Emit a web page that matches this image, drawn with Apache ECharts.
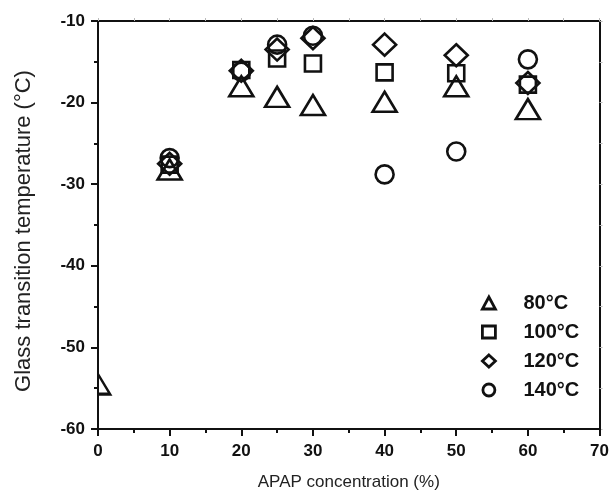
<!DOCTYPE html>
<html><head><meta charset="utf-8">
<script src="https://cdn.jsdelivr.net/npm/echarts@6/dist/echarts.min.js"></script>
<style>html,body{margin:0;padding:0;background:#fff}#c{width:612px;height:498px}</style>
</head><body><div id="c"></div>
<script>
const xTicks = [0, 10, 20, 30, 40, 50, 60, 70];
const yTicks = [-60, -50, -40, -30, -20, -10];
const seriesNames = ['80°C', '100°C', '120°C', '140°C'];
const conc = [0, 10, 20, 25, 30, 40, 50, 60];
const tg80 = [-54.5, -28.2, -18.0, -19.3, -20.3, -19.9, -18.0, -20.8];
const conc100 = [10, 20, 25, 30, 40, 50, 60];
const tg100 = [-27.6, -16.0, -14.6, -15.2, -16.3, -16.4, -17.8];
const conc120 = [10, 20, 25, 30, 40, 50, 60];
const tg120 = [-27.5, -16.1, -13.5, -12.1, -12.9, -14.2, -17.6];
const conc140 = [10, 20, 25, 30, 40, 50, 60];
const tg140 = [-26.8, -16.2, -12.9, -11.8, -28.8, -26.0, -14.7];

const font = '"Liberation Sans", Arial, sans-serif';
// point sitting on the y axis: only the half inside the plot is drawn
const zip = (xs, ys) => xs.map((x, i) => (xs === conc && x === 0)
  ? { value: [x, ys[i]], symbol: 'path://M0,0 L12,20 L0,20 Z', symbolSize: [12, 20], symbolOffset: [6, 0] }
  : [x, ys[i]]);
const mk = (name, xs, ys, symbol, size) => ({
  name: name, type: 'scatter', data: zip(xs, ys), symbol: symbol, symbolSize: size,
  clip: false,
  itemStyle: { color: 'rgba(0,0,0,0)', borderColor: '#111', borderWidth: 2.6, opacity: 1 },
  emphasis: { disabled: true }
});
const axisLine = { show: true, onZero: false, lineStyle: { color: '#111', width: 2 } };
const chart = echarts.init(document.getElementById('c'));
chart.setOption({
  animation: false,
  backgroundColor: '#fff',
  grid: { left: 98, right: 10, top: 21, bottom: 69, containLabel: false },
  legend: {
    orient: 'vertical', left: 476, top: 288, itemWidth: 13, itemHeight: 12, itemGap: 9,
    data: seriesNames,
    itemStyle: { borderWidth: 2.8, borderColor: '#111', color: 'rgba(0,0,0,0)' },
    textStyle: { fontFamily: font, fontWeight: 'bold', fontSize: 20, lineHeight: 20, color: '#111', padding: [0, 0, 0, 23] }
  },
  xAxis: [{
    type: 'value', position: 'bottom', min: 0, max: 70, interval: 10,
    name: 'APAP concentration (%)', nameLocation: 'middle', nameGap: 45,
    nameTextStyle: { fontFamily: font, fontSize: 17, color: '#222' },
    axisLine: axisLine, splitLine: { show: false },
    axisTick: { show: true, inside: false, length: 7, lineStyle: { color: '#111', width: 2 } },
    minorTick: { show: true, splitNumber: 2, length: 4, lineStyle: { color: '#111', width: 2 } },
    axisLabel: { fontFamily: font, fontWeight: 'bold', fontSize: 17, color: '#111', margin: 14 }
  }, {
    type: 'value', position: 'top', min: 0, max: 70, interval: 10,
    axisLine: axisLine, splitLine: { show: false },
    axisTick: { show: true, length: 3, lineStyle: { color: '#bbb', width: 1 } },
    minorTick: { show: true, splitNumber: 2, length: 3, lineStyle: { color: '#bbb', width: 1 } },
    axisLabel: { show: false }
  }],
  yAxis: [{
    type: 'value', position: 'left', min: -60, max: -10, interval: 10,
    name: 'Glass transition temperature (°C)', nameLocation: 'middle', nameGap: 63, nameRotate: 90,
    nameTextStyle: { fontFamily: font, fontSize: 22, color: '#222', padding: [0, 12, 0, 0] },
    axisLine: axisLine, splitLine: { show: false },
    axisTick: { show: true, inside: false, length: 7, lineStyle: { color: '#111', width: 2 } },
    minorTick: { show: true, splitNumber: 2, length: 4, lineStyle: { color: '#111', width: 2 } },
    axisLabel: { fontFamily: font, fontWeight: 'bold', fontSize: 17, color: '#111', margin: 13 }
  }, {
    type: 'value', position: 'right', min: -60, max: -10, interval: 10,
    axisLine: axisLine, splitLine: { show: false },
    axisTick: { show: true, length: 3, lineStyle: { color: '#bbb', width: 1 } },
    minorTick: { show: true, splitNumber: 2, length: 3, lineStyle: { color: '#bbb', width: 1 } },
    axisLabel: { show: false }
  }],
  series: [
    mk('80°C', conc, tg80, 'triangle', [24, 20]),
    mk('100°C', conc100, tg100, 'rect', [16, 16]),
    mk('120°C', conc120, tg120, 'diamond', [23, 22]),
    mk('140°C', conc140, tg140, 'circle', 18)
  ]
});
</script></body></html>
